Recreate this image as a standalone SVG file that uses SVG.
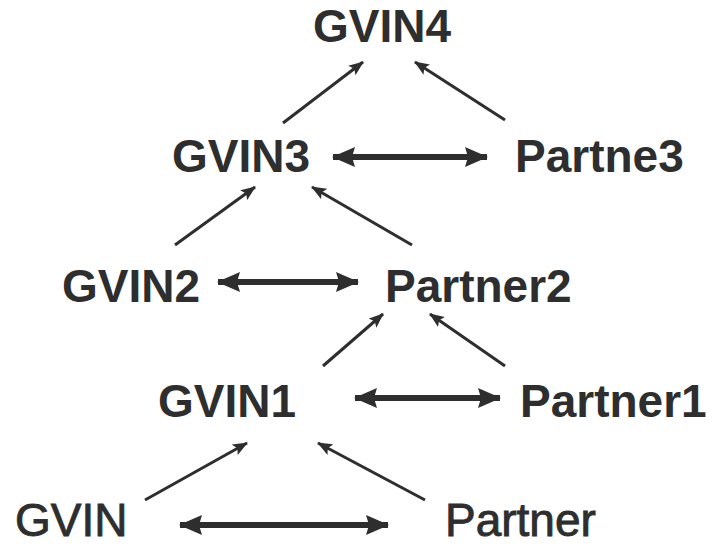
<svg xmlns="http://www.w3.org/2000/svg" width="713" height="546" viewBox="0 0 713 546">
<style>
.t{font-family:"Liberation Sans",Arial,sans-serif;font-size:46px;font-weight:bold;fill:#2e2e2e}
.r{font-weight:normal;stroke:#2e2e2e;stroke-width:0.9}
.a{stroke:#2e2e2e;stroke-width:3;fill:none;marker-end:url(#h)}
.d{stroke:#2e2e2e;stroke-width:6;fill:none;marker-start:url(#ds);marker-end:url(#de)}
</style>
<defs>
<marker id="h" markerUnits="userSpaceOnUse" markerWidth="16" markerHeight="12" refX="14" refY="6" orient="auto"><path d="M0,0 L15,6 L0,12 L3,6 Z" fill="#2e2e2e"/></marker>
<marker id="de" markerUnits="userSpaceOnUse" markerWidth="24" markerHeight="20" refX="22" refY="10" orient="auto"><path d="M0,0 L23,10 L0,20 L3,10 Z" fill="#2e2e2e"/></marker>
<marker id="ds" markerUnits="userSpaceOnUse" markerWidth="24" markerHeight="20" refX="1" refY="10" orient="auto"><path d="M23,0 L0,10 L23,20 L20,10 Z" fill="#2e2e2e"/></marker>
</defs>
<rect width="713" height="546" fill="#fff"/>
<g id="n-gvin4"><text class="t" x="313" y="42">GVIN4</text></g>
<g id="n-gvin3"><text class="t" x="172" y="172">GVIN3</text></g>
<g id="n-partne3"><text class="t" x="515" y="172">Partne3</text></g>
<g id="n-gvin2"><text class="t" x="62" y="302">GVIN2</text></g>
<g id="n-partner2"><text class="t" x="385" y="302">Partner2</text></g>
<g id="n-gvin1"><text class="t" x="158" y="417">GVIN1</text></g>
<g id="n-partner1"><text class="t" x="520" y="417">Partner1</text></g>
<g id="n-gvin"><text class="t r" x="15" y="536">GVIN</text></g>
<g id="n-partner"><text class="t r" x="445" y="536">Partner</text></g>
<g id="connectors">
<line class="a" x1="283" y1="123" x2="363" y2="62"/>
<line class="a" x1="505" y1="120" x2="415" y2="62"/>
<line class="d" x1="333" y1="157" x2="487" y2="157"/>
<line class="a" x1="175" y1="245" x2="255" y2="187"/>
<line class="a" x1="412" y1="245" x2="312" y2="187"/>
<line class="d" x1="218" y1="282" x2="358" y2="282"/>
<line class="a" x1="323" y1="366" x2="383" y2="314"/>
<line class="a" x1="505" y1="366" x2="430" y2="314"/>
<line class="d" x1="355" y1="398" x2="500" y2="398"/>
<line class="a" x1="145" y1="500" x2="247" y2="443"/>
<line class="a" x1="425" y1="500" x2="318" y2="443"/>
<line class="d" x1="180" y1="525" x2="388" y2="525"/>
</g>
</svg>
